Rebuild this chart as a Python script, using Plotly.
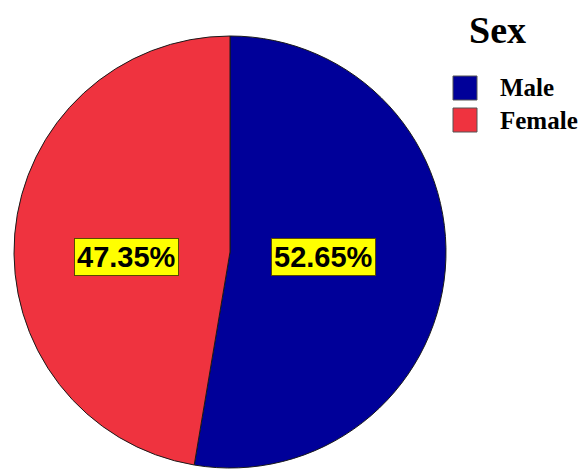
import math
import plotly.graph_objects as go

categories = ["Male", "Female"]
percentages = [52.65, 47.35]
colors = ["#000099", "#EF333F"]
legend_title = "Sex"

# Figure size; the page shows the figure with an 8px body offset
W, H = 586, 469
OFF = 8


def px(X):
    return (X - OFF) / W


def py(Y):
    return (H - (Y - OFF)) / H


# Pie placement in screen pixels
CX, CY, R = 230, 252, 216
dom_x = [px(CX - R), px(CX + R)]
dom_y = [py(CY + R), py(CY - R)]

fig = go.Figure()
fig.add_trace(go.Pie(
    labels=categories,
    values=percentages,
    sort=False,
    direction="clockwise",
    rotation=0,
    marker=dict(colors=colors, line=dict(color="#1a1a1a", width=1)),
    textinfo="none",
    hoverinfo="label+percent",
    showlegend=False,
    domain=dict(x=dom_x, y=dom_y),
))

# Value labels at the mid-angle side of each slice
total = sum(percentages)
cum = 0.0
for i, (cat, v) in enumerate(zip(categories, percentages)):
    mid = (cum + v / 2) / total * 2 * math.pi
    cum += v
    k = 0.434 if math.sin(mid) > 0 else 0.481
    X = CX + k * R * math.sin(mid)
    Y = CY + 5
    fig.add_annotation(
        x=px(X), y=py(Y), xref="paper", yref="paper",
        text=f"<b>{v:.2f}%</b>", showarrow=False,
        xanchor="center", yanchor="middle",
        font=dict(family="Liberation Sans, Arial", size=29, color="black"),
        bgcolor="#FFFF00", bordercolor="#5a4a00", borderwidth=1, borderpad=2,
    )

# Legend drawn manually
fig.add_annotation(
    x=px(497), y=py(8), xref="paper", yref="paper",
    text=f"<b>{legend_title}</b>", showarrow=False,
    font=dict(family="Liberation Serif, Times New Roman", size=38, color="black"),
    xanchor="center", yanchor="top", borderpad=0,
)
for i, (cat, col) in enumerate(zip(categories, colors)):
    top = 76 + i * 32
    fig.add_shape(
        type="rect", xref="paper", yref="paper",
        x0=px(453), x1=px(477), y0=py(top), y1=py(top + 24),
        fillcolor=col, line=dict(color="#555555", width=1),
    )
    fig.add_annotation(
        x=px(498), y=py(top + 12), xref="paper", yref="paper",
        text=f"<b>{cat}</b>", showarrow=False,
        font=dict(family="Liberation Serif, Times New Roman", size=25, color="black"),
        xanchor="left", yanchor="middle",
    )

fig.update_layout(
    width=W, height=H,
    margin=dict(l=0, r=0, t=0, b=0),
    paper_bgcolor="white", plot_bgcolor="white",
)
fig.write_html("out.html")
